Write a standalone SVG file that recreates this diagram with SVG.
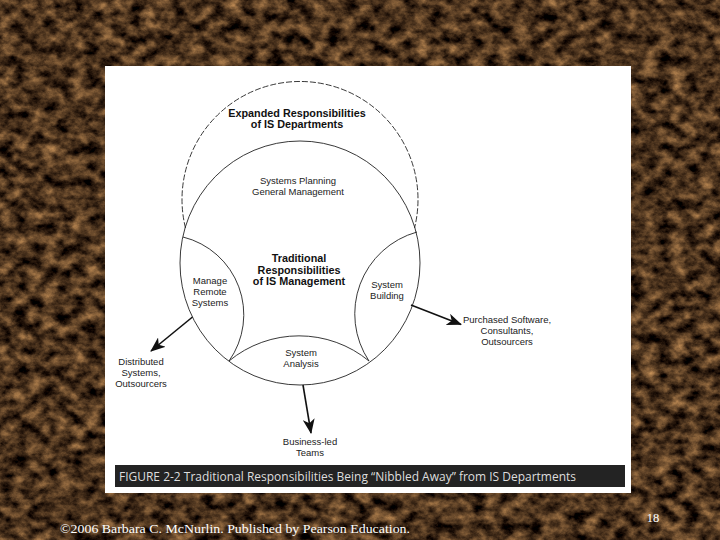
<svg xmlns="http://www.w3.org/2000/svg" width="720" height="540" viewBox="0 0 720 540">
<defs>
<filter id="marble" x="0" y="0" width="100%" height="100%" filterUnits="userSpaceOnUse" color-interpolation-filters="sRGB">
<feTurbulence type="fractalNoise" baseFrequency="0.07 0.09" numOctaves="5" seed="7" result="n"/>
<feColorMatrix in="n" type="matrix" values="1.05 0 0 0 -0.23  0.8 0 0 0 -0.2  0.5 0 0 0 -0.135  0 0 0 0 1"/>
</filter>
<marker id="arr" markerUnits="userSpaceOnUse" markerWidth="16" markerHeight="12" refX="14" refY="6" orient="auto" viewBox="0 0 16 12">
<path d="M0,0 L15,6 L0,12 L4,6 Z" fill="#111"/>
</marker>
<style>
.lbl{font-family:"Liberation Sans",Arial,sans-serif;font-size:9.5px;fill:#222;text-anchor:middle}
.bold{font-family:"Liberation Sans",Arial,sans-serif;font-size:10.8px;font-weight:bold;fill:#111;text-anchor:middle}
.ln{fill:none;stroke:#222;stroke-width:0.9}
.arrow{fill:none;stroke:#111;stroke-width:1.6;marker-end:url(#arr)}
</style>
</defs>
<rect x="0" y="0" width="720" height="540" fill="#4a2f1c"/>
<rect x="0" y="0" width="720" height="540" filter="url(#marble)"/>
<rect x="105" y="66" width="526" height="427" fill="#fff"/>

<g id="expanded">
<path class="ln" d="M185.5 228 A118 118 0 1 1 414.5 228" stroke-dasharray="6 2"/>
<text class="bold" x="297" y="116.5">Expanded Responsibilities</text>
<text class="bold" x="297" y="127.5">of IS Departments</text>
</g>

<g id="traditional">
<ellipse class="ln" cx="300" cy="263" rx="120" ry="122"/>
<text class="bold" x="299" y="262">Traditional</text>
<text class="bold" x="299" y="273.5">Responsibilities</text>
<text class="bold" x="299" y="285">of IS Management</text>
</g>

<g id="planning">
<text class="lbl" x="298" y="183.5">Systems Planning</text>
<text class="lbl" x="298" y="194.5">General Management</text>
</g>

<g id="remote">
<path class="ln" d="M183 237 A80 80 0 0 1 229 361"/>
<text class="lbl" x="210" y="284">Manage</text>
<text class="lbl" x="210" y="295">Remote</text>
<text class="lbl" x="210" y="306">Systems</text>
</g>

<g id="building">
<path class="ln" d="M417 232 A85 85 0 0 0 369 361"/>
<text class="lbl" x="387" y="288">System</text>
<text class="lbl" x="387" y="299">Building</text>
</g>

<g id="analysis">
<path class="ln" d="M229 361 A110 110 0 0 1 369 361"/>
<text class="lbl" x="301" y="356">System</text>
<text class="lbl" x="301" y="367">Analysis</text>
</g>

<g id="distributed">
<text class="lbl" x="141" y="365">Distributed</text>
<text class="lbl" x="141" y="376">Systems,</text>
<text class="lbl" x="141" y="387">Outsourcers</text>
</g>

<g id="purchased">
<text class="lbl" x="507" y="322.5">Purchased Software,</text>
<text class="lbl" x="507" y="333.5">Consultants,</text>
<text class="lbl" x="507" y="344.5">Outsourcers</text>
</g>

<g id="business">
<text class="lbl" x="310" y="444.5">Business-led</text>
<text class="lbl" x="310" y="455.5">Teams</text>
</g>

<g id="connectors">
<line class="arrow" x1="192.5" y1="317" x2="151" y2="351"/>
<line class="arrow" x1="411" y1="305" x2="461" y2="324.5"/>
<line class="arrow" x1="303" y1="385" x2="311" y2="433"/>
</g>

<g id="caption">
<rect x="115" y="465" width="510" height="22" fill="#232323"/>
<text x="119" y="481" font-family="'Open Sans','Liberation Sans',sans-serif" font-size="12.5" fill="#dedede" textLength="457" lengthAdjust="spacingAndGlyphs">FIGURE 2-2  Traditional Responsibilities Being “Nibbled Away” from IS Departments</text>
</g>

<g id="footer">
<text x="60" y="533" font-family="'Liberation Serif','Times New Roman',serif" font-size="13" fill="#fff" textLength="350" lengthAdjust="spacingAndGlyphs">©2006 Barbara C. McNurlin. Published by Pearson Education.</text>
<text x="653" y="522" font-family="'Liberation Serif','Times New Roman',serif" font-size="12.5" fill="#fff" text-anchor="middle">18</text>
</g>
</svg>
